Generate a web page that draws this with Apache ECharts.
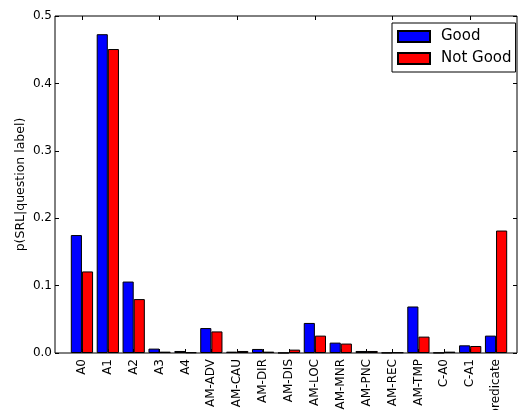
<!DOCTYPE html>
<html>
<head>
<meta charset="utf-8">
<script src="https://cdn.jsdelivr.net/npm/echarts@6/dist/echarts.min.js"></script>
<style>
  html, body { margin: 0; padding: 0; background: #fff; }
  #chart { width: 518px; height: 410px; }
</style>
</head>
<body>
<div id="chart"></div>
<script>
var labels = ['A0', 'A1', 'A2', 'A3', 'A4', 'AM-ADV', 'AM-CAU', 'AM-DIR', 'AM-DIS', 'AM-LOC',
              'AM-MNR', 'AM-PNC', 'AM-REC', 'AM-TMP', 'C-A0', 'C-A1', 'predicate'];
var good    = [0.175, 0.473, 0.106, 0.0065, 0.003, 0.037, 0.002, 0.006, 0.0003, 0.0446,
               0.0154, 0.003, 0.0005, 0.069, 0.0005, 0.0114, 0.0258];
var notGood = [0.121, 0.451, 0.080, 0.002, 0.001, 0.032, 0.003, 0.002, 0.005, 0.0258,
               0.014, 0.003, 0.001, 0.0243, 0.002, 0.0104, 0.1817];

var font = 'DejaVu Sans';
var myChart = echarts.init(document.getElementById('chart'));

var option = {
    animation: false,
    backgroundColor: '#fff',
    textStyle: { fontFamily: font },
    grid: [
        // frame + y axis
        { left: 55, right: 1, top: 16, bottom: 57, outerBoundsMode: 'none', containLabel: false,
          show: true, borderColor: '#000', borderWidth: 1, backgroundColor: 'transparent' },
        // bars
        { left: 69, right: 9, top: 16, bottom: 57, outerBoundsMode: 'none', containLabel: false }
    ],
    legend: {
        orient: 'vertical',
        left: 392,
        top: 23,
        icon: 'rect',
        itemWidth: 32,
        itemHeight: 11,
        itemGap: 5,
        padding: [5, 4, 5, 5],
        borderColor: '#000',
        borderWidth: 1,
        borderRadius: 0,
        backgroundColor: '#fff',
        textStyle: { fontFamily: font, fontSize: 15, lineHeight: 17, color: '#000', padding: [0, 0, 0, 6] },
        data: ['Good', 'Not Good']
    },
    xAxis: [
        { gridIndex: 0, type: 'value', show: false, min: 0, max: 1 },
        {
            gridIndex: 1, type: 'category', data: labels, position: 'bottom',
            axisLine: { show: false },
            axisTick: { show: true, inside: true, alignWithLabel: true, length: 4, lineStyle: { color: '#000' } },
            axisLabel: { rotate: 90, margin: 6, fontFamily: font, fontSize: 12, color: '#000', interval: 0 },
            splitLine: { show: false }
        },
        {
            gridIndex: 1, type: 'category', data: labels, position: 'top',
            axisLine: { show: false },
            axisTick: { show: true, inside: true, alignWithLabel: true, length: 4, lineStyle: { color: '#000' } },
            axisLabel: { show: false },
            splitLine: { show: false }
        }
    ],
    yAxis: [
        {
            gridIndex: 0, type: 'value', min: 0, max: 0.5, interval: 0.1, position: 'left',
            name: 'p(SRL|question label)', nameLocation: 'middle', nameGap: 28,
            nameMoveOverlap: false,
            nameTextStyle: { fontFamily: font, fontSize: 12.5, color: '#000' },
            axisLine: { show: false },
            axisTick: { show: true, inside: true, length: 4, lineStyle: { color: '#000' } },
            axisLabel: { fontFamily: font, fontSize: 12, color: '#000', margin: 3,
                         formatter: function (v) { return v.toFixed(1); } },
            splitLine: { show: false }
        },
        {
            gridIndex: 0, type: 'value', min: 0, max: 0.5, interval: 0.1, position: 'right',
            axisLine: { show: false },
            axisTick: { show: true, inside: true, length: 4, lineStyle: { color: '#000' } },
            axisLabel: { show: false },
            splitLine: { show: false }
        },
        { gridIndex: 1, type: 'value', min: 0, max: 0.5, show: false }
    ],
    series: [
        {
            name: 'Good', type: 'bar', xAxisIndex: 1, yAxisIndex: 2, data: good,
            barGap: '0%', barCategoryGap: '14%',
            itemStyle: { color: '#0000ff', borderColor: '#000', borderWidth: 1 }
        },
        {
            name: 'Not Good', type: 'bar', xAxisIndex: 1, yAxisIndex: 2, data: notGood,
            barGap: '0%', barCategoryGap: '14%',
            itemStyle: { color: '#ff0000', borderColor: '#000', borderWidth: 1 }
        }
    ]
};
myChart.setOption(option);
</script>
</body>
</html>
